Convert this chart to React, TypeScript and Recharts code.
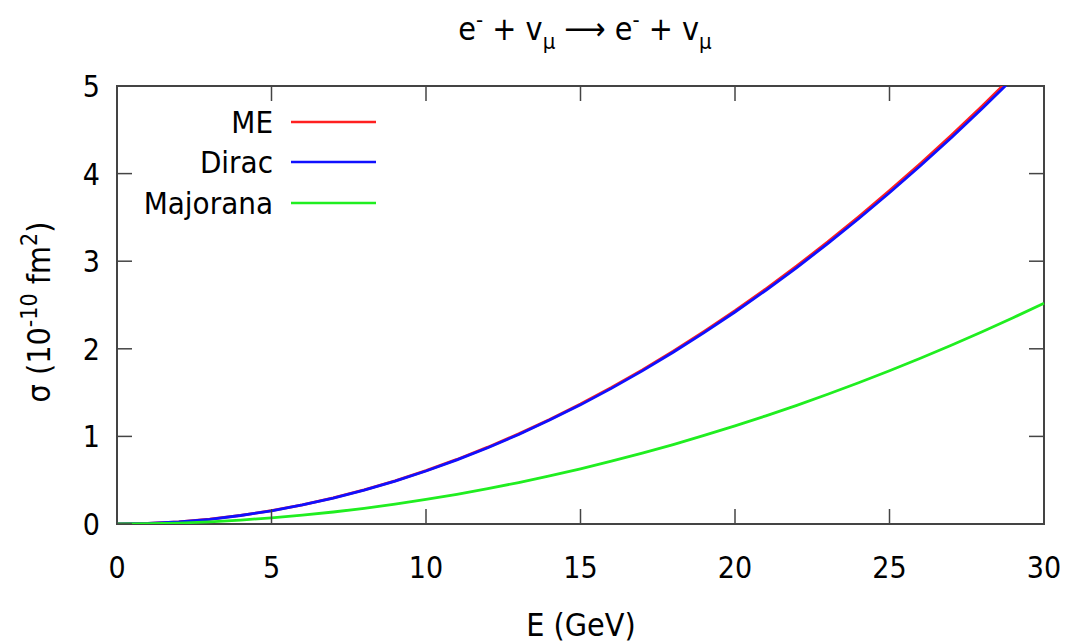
import React from "react";
import { LineChart, Line, XAxis, YAxis, ReferenceArea } from "recharts";

// energy grid (GeV) and cross sections (10^-10 fm^2)
const energy = [0, 1, 2, 3, 4, 5, 6, 7, 8, 9, 10, 11, 12, 13, 14, 15, 16, 17, 18, 19, 20, 21, 22, 23, 24, 25, 26, 27, 28, 29, 30];
const dirac = [0, 0.006, 0.024, 0.054, 0.097, 0.151, 0.218, 0.296, 0.387, 0.49, 0.605, 0.732, 0.871, 1.022, 1.186, 1.36, 1.548, 1.748, 1.96, 2.184, 2.42, 2.668, 2.928, 3.2, 3.485, 3.781, 4.09, 4.41, 4.743, 5.088, 5.445];
const me = [0, 0.006, 0.024, 0.055, 0.098, 0.152, 0.219, 0.298, 0.39, 0.493, 0.609, 0.737, 0.877, 1.029, 1.193, 1.369, 1.558, 1.759, 1.972, 2.198, 2.435, 2.685, 2.946, 3.22, 3.507, 3.805, 4.115, 4.437, 4.772, 5.119, 5.478];
const majorana = [0, 0.003, 0.011, 0.025, 0.045, 0.07, 0.101, 0.137, 0.179, 0.227, 0.28, 0.339, 0.403, 0.473, 0.549, 0.63, 0.717, 0.809, 0.907, 1.011, 1.12, 1.235, 1.355, 1.481, 1.613, 1.75, 1.893, 2.041, 2.195, 2.355, 2.52];
const xTicks = [0, 5, 10, 15, 20, 25, 30];
const yTicks = [0, 1, 2, 3, 4, 5];

const data = energy.map((E, i) => ({ E, ME: me[i], Dirac: dirac[i], Majorana: majorana[i] }));

const FONT = "'DejaVu Sans Condensed', 'DejaVu Sans', sans-serif";
const W = 1070;
const H = 643;
const TOP = 86;
const RIGHT = 26;
const LEFT = 117;
const BOTTOM = 524;
const TICK = 15;
const FRAME = "#444";

const legend = [
  { name: "ME", color: "#ff2020", y: 122 },
  { name: "Dirac", color: "#1010ff", y: 162 },
  { name: "Majorana", color: "#20ee20", y: 203 },
];

const XTick = (props: any) => {
  const { payload } = props;
  const x = payload.coordinate;
  return (
    <g>
      <line x1={x} x2={x} y1={BOTTOM} y2={BOTTOM - TICK} stroke={FRAME} strokeWidth={1.5} />
      <line x1={x} x2={x} y1={TOP} y2={TOP + TICK} stroke={FRAME} strokeWidth={1.5} />
      <text x={x} y={578} textAnchor="middle" fontSize={30} fontFamily={FONT} fill="#000">
        {payload.value}
      </text>
    </g>
  );
};

const YTick = (props: any) => {
  const { payload } = props;
  const y = payload.coordinate;
  return (
    <g>
      <line x1={LEFT} x2={LEFT + TICK} y1={y} y2={y} stroke={FRAME} strokeWidth={1.5} />
      <line x1={W - RIGHT} x2={W - RIGHT - TICK} y1={y} y2={y} stroke={FRAME} strokeWidth={1.5} />
      <text x={100} y={y + 11} textAnchor="end" fontSize={30} fontFamily={FONT} fill="#000">
        {payload.value}
      </text>
    </g>
  );
};

export default function App() {
  return (
    <div style={{ position: "absolute", left: 0, top: 0, width: W, height: H, background: "#fff" }}>
      <LineChart width={W} height={H} data={data} margin={{ top: TOP, right: RIGHT, bottom: 0, left: 0 }}>
        <XAxis
          dataKey="E"
          type="number"
          domain={[0, 30]}
          ticks={xTicks}
          axisLine={false}
          tickLine={false}
          tick={<XTick />}
          height={H - BOTTOM}
        />
        <YAxis
          type="number"
          domain={[0, 5]}
          ticks={yTicks}
          allowDataOverflow
          axisLine={false}
          tickLine={false}
          tick={<YTick />}
          width={LEFT}
        />
        <ReferenceArea x1={0} x2={30} y1={0} y2={5} fill="none" stroke={FRAME} strokeWidth={2} fillOpacity={0} />
        <Line dataKey="ME" stroke={legend[0].color} strokeWidth={2.8} dot={false} isAnimationActive={false} />
        <Line dataKey="Dirac" stroke={legend[1].color} strokeWidth={2.8} dot={false} isAnimationActive={false} />
        <Line dataKey="Majorana" stroke={legend[2].color} strokeWidth={2.8} dot={false} isAnimationActive={false} />
      </LineChart>
      <svg width={W} height={H} style={{ position: "absolute", left: 0, top: 0, pointerEvents: "none" }}>
        <text x={585} y={40} textAnchor="middle" fontSize={32} fontFamily={FONT} fill="#000">
          e<tspan dy={-13} fontSize={22}>-</tspan>
          <tspan dy={13}> + v</tspan>
          <tspan dy={9} fontSize={22}>μ</tspan>
          <tspan dy={-9}> ⟶ e</tspan>
          <tspan dy={-13} fontSize={22}>-</tspan>
          <tspan dy={13}> + v</tspan>
          <tspan dy={9} fontSize={22}>μ</tspan>
        </text>
        <text
          transform="translate(50, 312) rotate(-90)"
          textAnchor="middle"
          fontSize={32}
          fontFamily={FONT}
          fill="#000"
        >
          σ (10<tspan dy={-13} fontSize={23}>-10</tspan>
          <tspan dy={13}> fm</tspan>
          <tspan dy={-13} fontSize={23}>2</tspan>
          <tspan dy={13}>)</tspan>
        </text>
        <text x={581} y={636} textAnchor="middle" fontSize={32} fontFamily={FONT} fill="#000">
          E (GeV)
        </text>
        {legend.map((l) => (
          <g key={l.name}>
            <text x={273} y={l.y + 11} textAnchor="end" fontSize={31} fontFamily={FONT} fill="#000">
              {l.name}
            </text>
            <line x1={291} x2={376} y1={l.y} y2={l.y} stroke={l.color} strokeWidth={2.5} />
          </g>
        ))}
      </svg>
    </div>
  );
}
